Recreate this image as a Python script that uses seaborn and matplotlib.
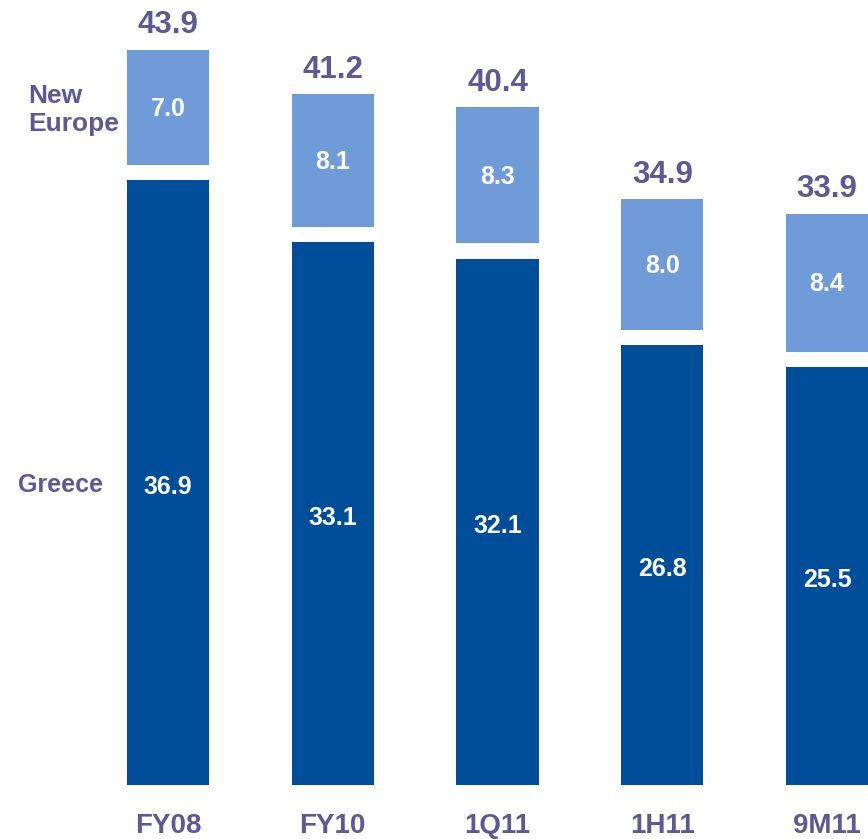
import numpy as np
import pandas as pd
import matplotlib
matplotlib.use("Agg")
import matplotlib.pyplot as plt
import seaborn as sns

# ---- data ----
categories = ["FY08", "FY10", "1Q11", "1H11", "9M11"]
greece = [36.9, 33.1, 32.1, 26.8, 25.5]
new_europe = [7.0, 8.1, 8.3, 8.0, 8.4]
totals = [43.9, 41.2, 40.4, 34.9, 33.9]

# ---- style ----
DARK = "#004D99"
LIGHT = "#6F9CD9"
PURPLE = "#5F5896"
GAP = 0.92

sns.set_theme(style="white")
plt.rcParams["font.family"] = ["Liberation Sans", "DejaVu Sans"]

fig = plt.figure(figsize=(8.68, 8.39), dpi=100)
ax = fig.add_axes([0, 54 / 839, 1, 785 / 839])

g = np.array(greece)
ne = np.array(new_europe)
df = pd.DataFrame({"cat": categories, "g": g, "gg": g + GAP, "tot": g + GAP + ne})

sns.barplot(data=df, x="cat", y="tot", color=LIGHT, saturation=1, width=0.5, ax=ax)
sns.barplot(data=df, x="cat", y="gg", color="white", saturation=1, width=0.5, ax=ax)
sns.barplot(data=df, x="cat", y="g", color=DARK, saturation=1, width=0.5, ax=ax)
for p in ax.patches:
    p.set_linewidth(0)

ax.set_xlim(-168 / 164.75, (868 - 168) / 164.75)
ax.set_ylim(0, 785 / 16.4)
ax.set_xlabel("")
ax.set_ylabel("")
ax.set_yticks([])
for s in ax.spines.values():
    s.set_visible(False)
ax.tick_params(axis="x", length=0, pad=20)
for lbl in ax.get_xticklabels():
    lbl.set_fontsize(20)
    lbl.set_fontweight("bold")
    lbl.set_color(PURPLE)

for i in range(len(categories)):
    ax.annotate(f"{greece[i]:.1f}", (i, g[i] / 2), xytext=(0, -3),
                textcoords="offset points", ha="center", va="center",
                color="white", fontsize=18, fontweight="bold")
    ax.annotate(f"{new_europe[i]:.1f}", (i, g[i] + GAP + ne[i] / 2), xytext=(0, -1),
                textcoords="offset points", ha="center", va="center",
                color="white", fontsize=18, fontweight="bold")
    ax.annotate(f"{totals[i]:.1f}", (i, g[i] + GAP + ne[i]), xytext=(0, 12),
                textcoords="offset points", ha="center", va="baseline",
                color=PURPLE, fontsize=22.5, fontweight="bold")

fig.text(28 / 868, 1 - 110 / 839, "New\nEurope", ha="left", va="center",
         color=PURPLE, fontsize=19, fontweight="bold", linespacing=1.25)
fig.text(18 / 868, 1 - 485 / 839, "Greece", ha="left", va="center",
         color=PURPLE, fontsize=18, fontweight="bold")

fig.savefig("out.png", dpi=100)
